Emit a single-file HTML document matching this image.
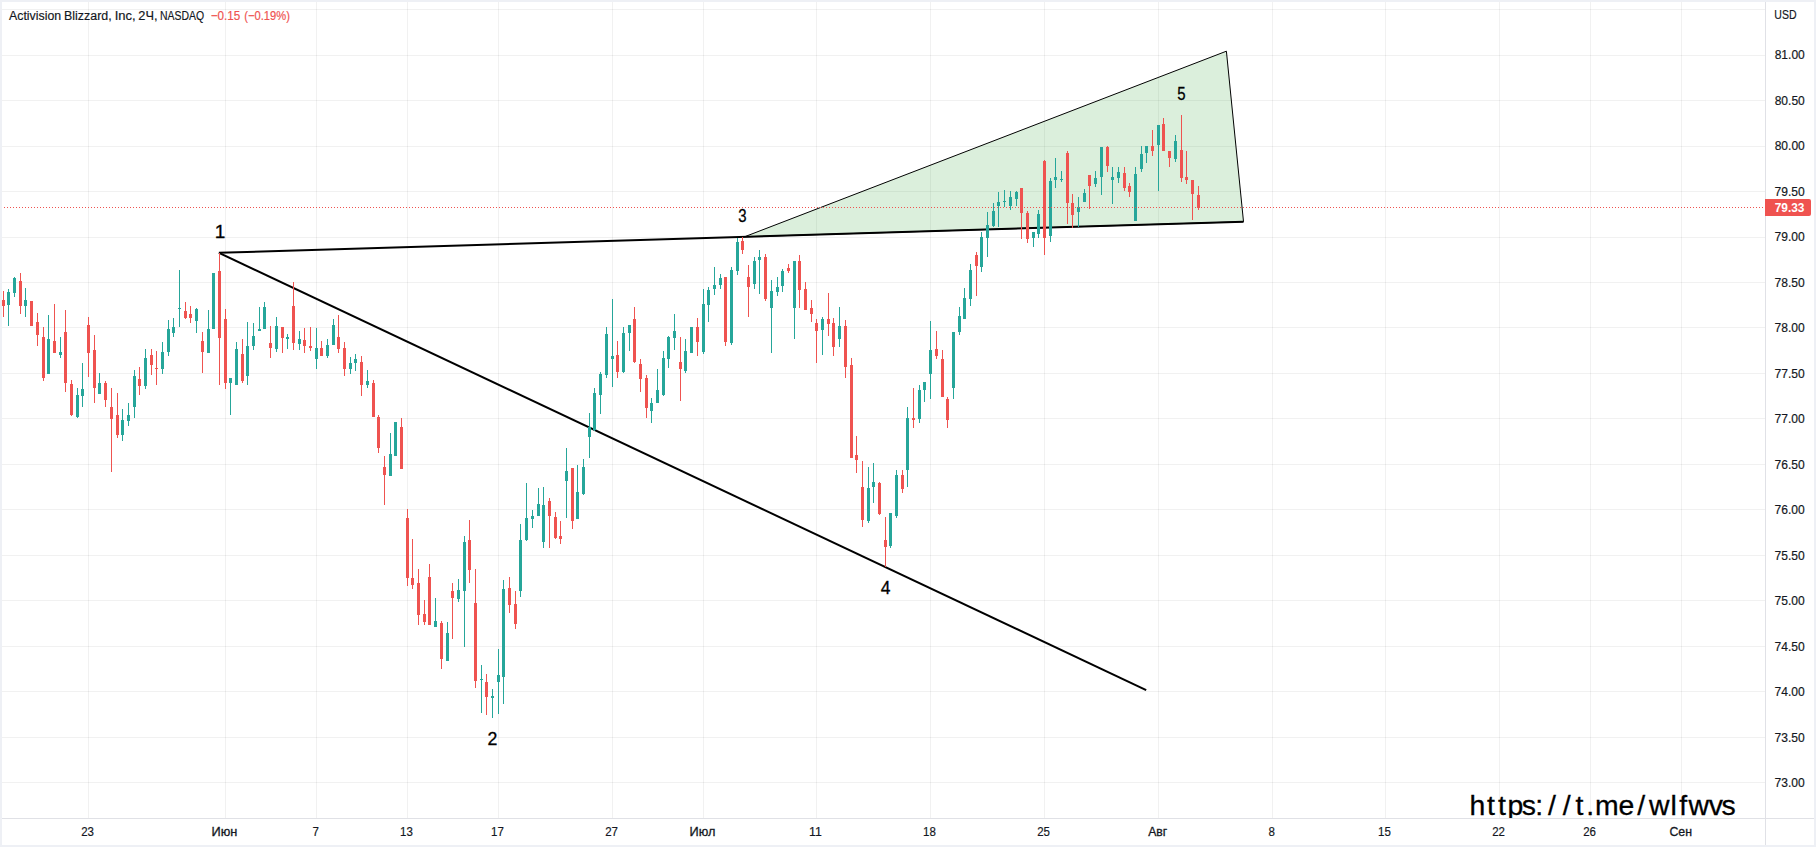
<!DOCTYPE html>
<html lang="ru"><head><meta charset="utf-8"><title>Activision Blizzard, Inc, 2Ч, NASDAQ</title>
<style>html,body{margin:0;padding:0;background:#fff;width:1816px;height:847px;overflow:hidden}svg{display:block}</style>
</head><body>
<svg width="1816" height="847" viewBox="0 0 1816 847" font-family='"Liberation Sans", sans-serif'>
<defs><clipPath id="pane"><rect x="2" y="2" width="1763" height="816"/></clipPath></defs>
<rect width="1816" height="847" fill="#fff"/>
<g fill="rgba(0,0,0,0.055)" shape-rendering="crispEdges">
<rect x="2" y="9" width="1763" height="1"/>
<rect x="2" y="55" width="1763" height="1"/>
<rect x="2" y="100" width="1763" height="1"/>
<rect x="2" y="146" width="1763" height="1"/>
<rect x="2" y="191" width="1763" height="1"/>
<rect x="2" y="237" width="1763" height="1"/>
<rect x="2" y="282" width="1763" height="1"/>
<rect x="2" y="327" width="1763" height="1"/>
<rect x="2" y="373" width="1763" height="1"/>
<rect x="2" y="418" width="1763" height="1"/>
<rect x="2" y="464" width="1763" height="1"/>
<rect x="2" y="509" width="1763" height="1"/>
<rect x="2" y="555" width="1763" height="1"/>
<rect x="2" y="600" width="1763" height="1"/>
<rect x="2" y="646" width="1763" height="1"/>
<rect x="2" y="691" width="1763" height="1"/>
<rect x="2" y="737" width="1763" height="1"/>
<rect x="2" y="782" width="1763" height="1"/>
<rect x="88" y="2" width="1" height="816"/>
<rect x="225" y="2" width="1" height="816"/>
<rect x="316" y="2" width="1" height="816"/>
<rect x="407" y="2" width="1" height="816"/>
<rect x="498" y="2" width="1" height="816"/>
<rect x="612" y="2" width="1" height="816"/>
<rect x="703" y="2" width="1" height="816"/>
<rect x="816" y="2" width="1" height="816"/>
<rect x="930" y="2" width="1" height="816"/>
<rect x="1044" y="2" width="1" height="816"/>
<rect x="1158" y="2" width="1" height="816"/>
<rect x="1272" y="2" width="1" height="816"/>
<rect x="1385" y="2" width="1" height="816"/>
<rect x="1499" y="2" width="1" height="816"/>
<rect x="1590" y="2" width="1" height="816"/>
<rect x="1681" y="2" width="1" height="816"/>
</g>
<polygon points="744.5,236.8 1226.4,51.2 1243.5,221.7" fill="rgba(76,175,80,0.2)" stroke="#000" stroke-width="1" stroke-linejoin="miter"/>
<g stroke="#000" stroke-width="2" fill="none"><line x1="218.9" y1="252.8" x2="1243.5" y2="221.7"/><line x1="218.9" y1="252.8" x2="1146.2" y2="690.1"/></g>
<g shape-rendering="crispEdges"><g fill="#26a69a"><rect x="8" y="289" width="1" height="37"/><rect x="14" y="277" width="1" height="20"/><rect x="25" y="288" width="1" height="29"/><rect x="48" y="315" width="1" height="59"/><rect x="60" y="337" width="1" height="21"/><rect x="77" y="388" width="1" height="30"/><rect x="82" y="363" width="1" height="44"/><rect x="99" y="373" width="1" height="21"/><rect x="122" y="409" width="1" height="32"/><rect x="128" y="403" width="1" height="23"/><rect x="134" y="370" width="1" height="48"/><rect x="145" y="349" width="1" height="40"/><rect x="162" y="342" width="1" height="32"/><rect x="168" y="320" width="1" height="36"/><rect x="173" y="318" width="1" height="19"/><rect x="179" y="270" width="1" height="57"/><rect x="196" y="308" width="1" height="25"/><rect x="208" y="310" width="1" height="43"/><rect x="213" y="273" width="1" height="56"/><rect x="230" y="378" width="1" height="37"/><rect x="236" y="342" width="1" height="43"/><rect x="247" y="322" width="1" height="63"/><rect x="253" y="323" width="1" height="27"/><rect x="259" y="307" width="1" height="24"/><rect x="264" y="302" width="1" height="27"/><rect x="276" y="317" width="1" height="35"/><rect x="287" y="334" width="1" height="15"/><rect x="299" y="331" width="1" height="19"/><rect x="316" y="328" width="1" height="41"/><rect x="327" y="339" width="1" height="19"/><rect x="333" y="319" width="1" height="26"/><rect x="350" y="357" width="1" height="17"/><rect x="355" y="354" width="1" height="17"/><rect x="367" y="370" width="1" height="18"/><rect x="390" y="433" width="1" height="43"/><rect x="395" y="422" width="1" height="34"/><rect x="435" y="598" width="1" height="29"/><rect x="447" y="622" width="1" height="39"/><rect x="458" y="579" width="1" height="23"/><rect x="464" y="536" width="1" height="111"/><rect x="481" y="665" width="1" height="48"/><rect x="492" y="689" width="1" height="29"/><rect x="498" y="649" width="1" height="65"/><rect x="503" y="580" width="1" height="124"/><rect x="520" y="524" width="1" height="73"/><rect x="526" y="483" width="1" height="58"/><rect x="532" y="510" width="1" height="18"/><rect x="538" y="488" width="1" height="28"/><rect x="543" y="487" width="1" height="61"/><rect x="566" y="448" width="1" height="70"/><rect x="577" y="465" width="1" height="54"/><rect x="583" y="459" width="1" height="36"/><rect x="589" y="413" width="1" height="45"/><rect x="594" y="388" width="1" height="43"/><rect x="600" y="372" width="1" height="42"/><rect x="606" y="327" width="1" height="51"/><rect x="612" y="299" width="1" height="88"/><rect x="623" y="327" width="1" height="46"/><rect x="629" y="325" width="1" height="26"/><rect x="651" y="398" width="1" height="25"/><rect x="657" y="369" width="1" height="34"/><rect x="663" y="351" width="1" height="45"/><rect x="668" y="336" width="1" height="32"/><rect x="674" y="314" width="1" height="36"/><rect x="685" y="339" width="1" height="34"/><rect x="691" y="327" width="1" height="26"/><rect x="703" y="289" width="1" height="65"/><rect x="708" y="287" width="1" height="35"/><rect x="714" y="267" width="1" height="28"/><rect x="720" y="274" width="1" height="15"/><rect x="731" y="267" width="1" height="78"/><rect x="737" y="238" width="1" height="37"/><rect x="754" y="257" width="1" height="32"/><rect x="759" y="250" width="1" height="44"/><rect x="771" y="280" width="1" height="73"/><rect x="777" y="277" width="1" height="19"/><rect x="782" y="269" width="1" height="23"/><rect x="794" y="261" width="1" height="78"/><rect x="822" y="317" width="1" height="38"/><rect x="839" y="307" width="1" height="40"/><rect x="868" y="467" width="1" height="56"/><rect x="873" y="463" width="1" height="40"/><rect x="890" y="513" width="1" height="35"/><rect x="896" y="470" width="1" height="48"/><rect x="907" y="407" width="1" height="80"/><rect x="919" y="385" width="1" height="38"/><rect x="924" y="382" width="1" height="20"/><rect x="930" y="321" width="1" height="78"/><rect x="953" y="332" width="1" height="67"/><rect x="959" y="307" width="1" height="28"/><rect x="964" y="288" width="1" height="31"/><rect x="970" y="264" width="1" height="42"/><rect x="981" y="232" width="1" height="40"/><rect x="987" y="212" width="1" height="45"/><rect x="993" y="203" width="1" height="24"/><rect x="998" y="192" width="1" height="35"/><rect x="1004" y="190" width="1" height="17"/><rect x="1010" y="191" width="1" height="19"/><rect x="1016" y="191" width="1" height="15"/><rect x="1033" y="232" width="1" height="15"/><rect x="1038" y="210" width="1" height="28"/><rect x="1050" y="178" width="1" height="64"/><rect x="1055" y="158" width="1" height="30"/><rect x="1061" y="171" width="1" height="11"/><rect x="1078" y="197" width="1" height="30"/><rect x="1084" y="189" width="1" height="13"/><rect x="1095" y="171" width="1" height="16"/><rect x="1101" y="147" width="1" height="48"/><rect x="1112" y="167" width="1" height="37"/><rect x="1118" y="167" width="1" height="16"/><rect x="1135" y="167" width="1" height="54"/><rect x="1141" y="146" width="1" height="26"/><rect x="1146" y="146" width="1" height="17"/><rect x="1158" y="125" width="1" height="66"/><rect x="1175" y="135" width="1" height="27"/><rect x="7" y="292" width="3" height="13"/><rect x="13" y="278" width="3" height="15"/><rect x="24" y="300" width="3" height="6"/><rect x="47" y="339" width="3" height="35"/><rect x="59" y="352" width="3" height="3"/><rect x="76" y="395" width="3" height="22"/><rect x="81" y="389" width="3" height="7"/><rect x="98" y="383" width="3" height="11"/><rect x="121" y="420" width="3" height="15"/><rect x="127" y="415" width="3" height="6"/><rect x="133" y="376" width="3" height="31"/><rect x="144" y="358" width="3" height="28"/><rect x="161" y="352" width="3" height="17"/><rect x="167" y="329" width="3" height="23"/><rect x="172" y="327" width="3" height="6"/><rect x="178" y="308" width="3" height="1"/><rect x="195" y="309" width="3" height="12"/><rect x="207" y="329" width="3" height="24"/><rect x="212" y="273" width="3" height="56"/><rect x="229" y="378" width="3" height="5"/><rect x="235" y="349" width="3" height="36"/><rect x="246" y="346" width="3" height="30"/><rect x="252" y="336" width="3" height="10"/><rect x="258" y="329" width="3" height="2"/><rect x="263" y="307" width="3" height="22"/><rect x="275" y="326" width="3" height="23"/><rect x="286" y="337" width="3" height="2"/><rect x="298" y="339" width="3" height="5"/><rect x="315" y="348" width="3" height="11"/><rect x="326" y="345" width="3" height="11"/><rect x="332" y="325" width="3" height="20"/><rect x="349" y="363" width="3" height="6"/><rect x="354" y="359" width="3" height="4"/><rect x="366" y="381" width="3" height="4"/><rect x="389" y="454" width="3" height="22"/><rect x="394" y="422" width="3" height="34"/><rect x="434" y="621" width="3" height="6"/><rect x="446" y="633" width="3" height="28"/><rect x="457" y="590" width="3" height="9"/><rect x="463" y="542" width="3" height="49"/><rect x="480" y="679" width="3" height="1"/><rect x="491" y="696" width="3" height="2"/><rect x="497" y="675" width="3" height="7"/><rect x="502" y="589" width="3" height="88"/><rect x="519" y="540" width="3" height="51"/><rect x="525" y="518" width="3" height="22"/><rect x="531" y="516" width="3" height="3"/><rect x="537" y="504" width="3" height="12"/><rect x="542" y="505" width="3" height="37"/><rect x="565" y="471" width="3" height="10"/><rect x="576" y="492" width="3" height="27"/><rect x="582" y="467" width="3" height="27"/><rect x="588" y="427" width="3" height="10"/><rect x="593" y="393" width="3" height="37"/><rect x="599" y="374" width="3" height="21"/><rect x="605" y="334" width="3" height="41"/><rect x="611" y="356" width="3" height="3"/><rect x="622" y="333" width="3" height="39"/><rect x="628" y="325" width="3" height="8"/><rect x="650" y="403" width="3" height="8"/><rect x="656" y="390" width="3" height="13"/><rect x="662" y="358" width="3" height="37"/><rect x="667" y="337" width="3" height="22"/><rect x="673" y="331" width="3" height="7"/><rect x="684" y="351" width="3" height="20"/><rect x="690" y="327" width="3" height="26"/><rect x="702" y="304" width="3" height="48"/><rect x="707" y="290" width="3" height="15"/><rect x="713" y="285" width="3" height="4"/><rect x="719" y="278" width="3" height="7"/><rect x="730" y="270" width="3" height="73"/><rect x="736" y="242" width="3" height="29"/><rect x="753" y="261" width="3" height="23"/><rect x="758" y="257" width="3" height="3"/><rect x="770" y="291" width="3" height="17"/><rect x="776" y="287" width="3" height="5"/><rect x="781" y="271" width="3" height="15"/><rect x="793" y="261" width="3" height="47"/><rect x="821" y="319" width="3" height="11"/><rect x="838" y="326" width="3" height="13"/><rect x="867" y="488" width="3" height="33"/><rect x="872" y="482" width="3" height="5"/><rect x="889" y="513" width="3" height="33"/><rect x="895" y="475" width="3" height="41"/><rect x="906" y="418" width="3" height="52"/><rect x="918" y="390" width="3" height="29"/><rect x="923" y="382" width="3" height="8"/><rect x="929" y="350" width="3" height="24"/><rect x="952" y="332" width="3" height="56"/><rect x="958" y="316" width="3" height="16"/><rect x="963" y="298" width="3" height="21"/><rect x="969" y="270" width="3" height="29"/><rect x="980" y="237" width="3" height="30"/><rect x="986" y="225" width="3" height="13"/><rect x="992" y="211" width="3" height="15"/><rect x="997" y="202" width="3" height="4"/><rect x="1003" y="201" width="3" height="1"/><rect x="1009" y="197" width="3" height="9"/><rect x="1015" y="192" width="3" height="7"/><rect x="1032" y="232" width="3" height="6"/><rect x="1037" y="214" width="3" height="20"/><rect x="1049" y="181" width="3" height="55"/><rect x="1054" y="177" width="3" height="3"/><rect x="1060" y="179" width="3" height="1"/><rect x="1077" y="207" width="3" height="5"/><rect x="1083" y="193" width="3" height="9"/><rect x="1094" y="178" width="3" height="6"/><rect x="1100" y="147" width="3" height="30"/><rect x="1111" y="177" width="3" height="3"/><rect x="1117" y="172" width="3" height="6"/><rect x="1134" y="174" width="3" height="47"/><rect x="1140" y="154" width="3" height="15"/><rect x="1145" y="146" width="3" height="7"/><rect x="1157" y="125" width="3" height="20"/><rect x="1174" y="141" width="3" height="18"/></g><g fill="#ef5350"><rect x="3" y="291" width="1" height="26"/><rect x="20" y="273" width="1" height="41"/><rect x="31" y="301" width="1" height="25"/><rect x="37" y="313" width="1" height="33"/><rect x="43" y="327" width="1" height="54"/><rect x="54" y="304" width="1" height="49"/><rect x="65" y="310" width="1" height="82"/><rect x="71" y="380" width="1" height="36"/><rect x="88" y="317" width="1" height="60"/><rect x="94" y="335" width="1" height="68"/><rect x="105" y="381" width="1" height="26"/><rect x="111" y="388" width="1" height="84"/><rect x="117" y="393" width="1" height="45"/><rect x="139" y="367" width="1" height="28"/><rect x="151" y="349" width="1" height="26"/><rect x="156" y="351" width="1" height="34"/><rect x="185" y="302" width="1" height="17"/><rect x="190" y="306" width="1" height="17"/><rect x="202" y="332" width="1" height="41"/><rect x="219" y="253" width="1" height="132"/><rect x="225" y="309" width="1" height="80"/><rect x="242" y="339" width="1" height="44"/><rect x="270" y="326" width="1" height="32"/><rect x="282" y="327" width="1" height="26"/><rect x="293" y="282" width="1" height="68"/><rect x="304" y="328" width="1" height="25"/><rect x="310" y="327" width="1" height="24"/><rect x="321" y="341" width="1" height="15"/><rect x="338" y="315" width="1" height="38"/><rect x="344" y="342" width="1" height="34"/><rect x="361" y="356" width="1" height="40"/><rect x="373" y="380" width="1" height="37"/><rect x="378" y="415" width="1" height="38"/><rect x="384" y="456" width="1" height="49"/><rect x="401" y="418" width="1" height="51"/><rect x="407" y="509" width="1" height="77"/><rect x="412" y="539" width="1" height="50"/><rect x="418" y="569" width="1" height="56"/><rect x="424" y="600" width="1" height="25"/><rect x="429" y="564" width="1" height="61"/><rect x="441" y="621" width="1" height="48"/><rect x="452" y="583" width="1" height="56"/><rect x="469" y="520" width="1" height="63"/><rect x="475" y="569" width="1" height="119"/><rect x="486" y="674" width="1" height="41"/><rect x="509" y="577" width="1" height="36"/><rect x="515" y="591" width="1" height="38"/><rect x="549" y="498" width="1" height="50"/><rect x="555" y="512" width="1" height="27"/><rect x="560" y="521" width="1" height="23"/><rect x="572" y="468" width="1" height="61"/><rect x="617" y="341" width="1" height="37"/><rect x="634" y="307" width="1" height="56"/><rect x="640" y="359" width="1" height="33"/><rect x="646" y="375" width="1" height="43"/><rect x="680" y="337" width="1" height="64"/><rect x="697" y="318" width="1" height="38"/><rect x="725" y="277" width="1" height="69"/><rect x="742" y="237" width="1" height="17"/><rect x="748" y="265" width="1" height="52"/><rect x="765" y="254" width="1" height="47"/><rect x="788" y="264" width="1" height="9"/><rect x="799" y="255" width="1" height="53"/><rect x="805" y="282" width="1" height="28"/><rect x="811" y="300" width="1" height="22"/><rect x="816" y="319" width="1" height="44"/><rect x="828" y="293" width="1" height="43"/><rect x="833" y="318" width="1" height="38"/><rect x="845" y="320" width="1" height="58"/><rect x="851" y="358" width="1" height="100"/><rect x="856" y="436" width="1" height="37"/><rect x="862" y="461" width="1" height="66"/><rect x="879" y="482" width="1" height="33"/><rect x="885" y="517" width="1" height="50"/><rect x="902" y="470" width="1" height="23"/><rect x="913" y="388" width="1" height="40"/><rect x="936" y="331" width="1" height="28"/><rect x="942" y="350" width="1" height="47"/><rect x="947" y="397" width="1" height="31"/><rect x="976" y="252" width="1" height="44"/><rect x="1021" y="188" width="1" height="51"/><rect x="1027" y="211" width="1" height="32"/><rect x="1044" y="160" width="1" height="95"/><rect x="1067" y="151" width="1" height="73"/><rect x="1072" y="194" width="1" height="34"/><rect x="1089" y="175" width="1" height="34"/><rect x="1107" y="146" width="1" height="26"/><rect x="1124" y="167" width="1" height="24"/><rect x="1129" y="183" width="1" height="14"/><rect x="1152" y="130" width="1" height="26"/><rect x="1163" y="118" width="1" height="33"/><rect x="1169" y="151" width="1" height="16"/><rect x="1181" y="115" width="1" height="67"/><rect x="1186" y="151" width="1" height="33"/><rect x="1192" y="180" width="1" height="40"/><rect x="1198" y="186" width="1" height="24"/><rect x="2" y="300" width="3" height="6"/><rect x="19" y="281" width="3" height="25"/><rect x="30" y="301" width="3" height="25"/><rect x="36" y="322" width="3" height="13"/><rect x="42" y="337" width="3" height="41"/><rect x="53" y="341" width="3" height="12"/><rect x="64" y="332" width="3" height="51"/><rect x="70" y="384" width="3" height="31"/><rect x="87" y="325" width="3" height="28"/><rect x="93" y="350" width="3" height="38"/><rect x="104" y="383" width="3" height="17"/><rect x="110" y="407" width="3" height="12"/><rect x="116" y="415" width="3" height="20"/><rect x="138" y="379" width="3" height="7"/><rect x="150" y="355" width="3" height="10"/><rect x="155" y="368" width="3" height="1"/><rect x="184" y="311" width="3" height="7"/><rect x="189" y="314" width="3" height="4"/><rect x="201" y="341" width="3" height="11"/><rect x="218" y="271" width="3" height="67"/><rect x="224" y="319" width="3" height="64"/><rect x="241" y="354" width="3" height="27"/><rect x="269" y="343" width="3" height="5"/><rect x="281" y="327" width="3" height="11"/><rect x="292" y="306" width="3" height="37"/><rect x="303" y="340" width="3" height="6"/><rect x="309" y="346" width="3" height="2"/><rect x="320" y="348" width="3" height="8"/><rect x="337" y="337" width="3" height="12"/><rect x="343" y="348" width="3" height="21"/><rect x="360" y="362" width="3" height="23"/><rect x="372" y="383" width="3" height="34"/><rect x="377" y="417" width="3" height="31"/><rect x="383" y="467" width="3" height="8"/><rect x="400" y="427" width="3" height="42"/><rect x="406" y="518" width="3" height="60"/><rect x="411" y="578" width="3" height="7"/><rect x="417" y="583" width="3" height="32"/><rect x="423" y="614" width="3" height="8"/><rect x="428" y="577" width="3" height="48"/><rect x="440" y="623" width="3" height="36"/><rect x="451" y="591" width="3" height="7"/><rect x="468" y="540" width="3" height="30"/><rect x="474" y="603" width="3" height="78"/><rect x="485" y="682" width="3" height="15"/><rect x="508" y="588" width="3" height="17"/><rect x="514" y="604" width="3" height="20"/><rect x="548" y="501" width="3" height="15"/><rect x="554" y="517" width="3" height="21"/><rect x="559" y="536" width="3" height="3"/><rect x="571" y="468" width="3" height="53"/><rect x="616" y="355" width="3" height="17"/><rect x="633" y="319" width="3" height="43"/><rect x="639" y="364" width="3" height="15"/><rect x="645" y="378" width="3" height="30"/><rect x="679" y="362" width="3" height="7"/><rect x="696" y="327" width="3" height="15"/><rect x="724" y="277" width="3" height="65"/><rect x="741" y="241" width="3" height="9"/><rect x="747" y="277" width="3" height="10"/><rect x="764" y="257" width="3" height="42"/><rect x="787" y="268" width="3" height="3"/><rect x="798" y="261" width="3" height="29"/><rect x="804" y="289" width="3" height="21"/><rect x="810" y="308" width="3" height="6"/><rect x="815" y="323" width="3" height="8"/><rect x="827" y="319" width="3" height="5"/><rect x="832" y="323" width="3" height="24"/><rect x="844" y="326" width="3" height="41"/><rect x="850" y="365" width="3" height="93"/><rect x="855" y="455" width="3" height="5"/><rect x="861" y="487" width="3" height="33"/><rect x="878" y="483" width="3" height="31"/><rect x="884" y="540" width="3" height="7"/><rect x="901" y="475" width="3" height="14"/><rect x="912" y="418" width="3" height="2"/><rect x="935" y="349" width="3" height="7"/><rect x="941" y="359" width="3" height="38"/><rect x="946" y="399" width="3" height="21"/><rect x="975" y="255" width="3" height="11"/><rect x="1020" y="188" width="3" height="25"/><rect x="1026" y="213" width="3" height="26"/><rect x="1043" y="161" width="3" height="77"/><rect x="1066" y="153" width="3" height="50"/><rect x="1071" y="203" width="3" height="12"/><rect x="1088" y="175" width="3" height="11"/><rect x="1106" y="147" width="3" height="19"/><rect x="1123" y="173" width="3" height="15"/><rect x="1128" y="186" width="3" height="6"/><rect x="1151" y="146" width="3" height="5"/><rect x="1162" y="124" width="3" height="27"/><rect x="1168" y="151" width="3" height="7"/><rect x="1180" y="150" width="3" height="28"/><rect x="1185" y="177" width="3" height="3"/><rect x="1191" y="180" width="3" height="14"/><rect x="1197" y="195" width="3" height="13"/></g></g>
<line x1="1" y1="207.5" x2="1765" y2="207.5" stroke="#ef5350" stroke-width="1" stroke-dasharray="1 2" shape-rendering="crispEdges"/>
<text x="214.85" y="238" font-size="19" fill="#000" stroke="#000" stroke-width="0.3" textLength="10.57" lengthAdjust="spacingAndGlyphs">1</text>
<text x="487.46" y="745.1" font-size="19" fill="#000" stroke="#000" stroke-width="0.3" textLength="9.89" lengthAdjust="spacingAndGlyphs">2</text>
<text x="738.28" y="222.2" font-size="19" fill="#000" stroke="#000" stroke-width="0.3" textLength="8.33" lengthAdjust="spacingAndGlyphs">3</text>
<text x="880.75" y="594" font-size="19" fill="#000" stroke="#000" stroke-width="0.3" textLength="9.71" lengthAdjust="spacingAndGlyphs">4</text>
<text x="1177.35" y="99.8" font-size="19" fill="#000" stroke="#000" stroke-width="0.3" textLength="8.33" lengthAdjust="spacingAndGlyphs">5</text>
<g fill="#e0e1e6" shape-rendering="crispEdges"><rect x="1765" y="2" width="1" height="843"/><rect x="2" y="818" width="1812" height="1"/></g>
<text x="1774.68" y="59.0" font-size="12.5" fill="#131722" stroke="#131722" stroke-width="0.18" textLength="30.09" lengthAdjust="spacingAndGlyphs">81.00</text>
<text x="1774.68" y="104.5" font-size="12.5" fill="#131722" stroke="#131722" stroke-width="0.18" textLength="30.09" lengthAdjust="spacingAndGlyphs">80.50</text>
<text x="1774.68" y="150.0" font-size="12.5" fill="#131722" stroke="#131722" stroke-width="0.18" textLength="30.09" lengthAdjust="spacingAndGlyphs">80.00</text>
<text x="1774.58" y="195.5" font-size="12.5" fill="#131722" stroke="#131722" stroke-width="0.18" textLength="30.19" lengthAdjust="spacingAndGlyphs">79.50</text>
<text x="1774.58" y="241.0" font-size="12.5" fill="#131722" stroke="#131722" stroke-width="0.18" textLength="30.19" lengthAdjust="spacingAndGlyphs">79.00</text>
<text x="1774.58" y="286.5" font-size="12.5" fill="#131722" stroke="#131722" stroke-width="0.18" textLength="30.19" lengthAdjust="spacingAndGlyphs">78.50</text>
<text x="1774.58" y="332.0" font-size="12.5" fill="#131722" stroke="#131722" stroke-width="0.18" textLength="30.19" lengthAdjust="spacingAndGlyphs">78.00</text>
<text x="1774.58" y="377.5" font-size="12.5" fill="#131722" stroke="#131722" stroke-width="0.18" textLength="30.19" lengthAdjust="spacingAndGlyphs">77.50</text>
<text x="1774.58" y="423.0" font-size="12.5" fill="#131722" stroke="#131722" stroke-width="0.18" textLength="30.19" lengthAdjust="spacingAndGlyphs">77.00</text>
<text x="1774.58" y="468.5" font-size="12.5" fill="#131722" stroke="#131722" stroke-width="0.18" textLength="30.19" lengthAdjust="spacingAndGlyphs">76.50</text>
<text x="1774.58" y="514.0" font-size="12.5" fill="#131722" stroke="#131722" stroke-width="0.18" textLength="30.19" lengthAdjust="spacingAndGlyphs">76.00</text>
<text x="1774.58" y="559.5" font-size="12.5" fill="#131722" stroke="#131722" stroke-width="0.18" textLength="30.19" lengthAdjust="spacingAndGlyphs">75.50</text>
<text x="1774.58" y="605.0" font-size="12.5" fill="#131722" stroke="#131722" stroke-width="0.18" textLength="30.19" lengthAdjust="spacingAndGlyphs">75.00</text>
<text x="1774.58" y="650.5" font-size="12.5" fill="#131722" stroke="#131722" stroke-width="0.18" textLength="30.19" lengthAdjust="spacingAndGlyphs">74.50</text>
<text x="1774.58" y="696.0" font-size="12.5" fill="#131722" stroke="#131722" stroke-width="0.18" textLength="30.19" lengthAdjust="spacingAndGlyphs">74.00</text>
<text x="1774.58" y="741.5" font-size="12.5" fill="#131722" stroke="#131722" stroke-width="0.18" textLength="30.19" lengthAdjust="spacingAndGlyphs">73.50</text>
<text x="1774.58" y="787.0" font-size="12.5" fill="#131722" stroke="#131722" stroke-width="0.18" textLength="30.19" lengthAdjust="spacingAndGlyphs">73.00</text>
<text x="1774.29" y="19" font-size="12.5" fill="#131722" stroke="#131722" stroke-width="0.18" textLength="22.22" lengthAdjust="spacingAndGlyphs">USD</text>
<path d="M1765 199h44a2 2 0 0 1 2 2v13a2 2 0 0 1 -2 2h-44z" fill="#ef5350"/>
<text x="1774.69" y="211.7" font-size="12.5" font-weight="bold" fill="#fff" textLength="29.74" lengthAdjust="spacingAndGlyphs">79.33</text>
<text x="81.17" y="836.2" font-size="12.5" fill="#131722" stroke="#131722" stroke-width="0.18" textLength="12.79" lengthAdjust="spacingAndGlyphs">23</text>
<text x="211.6" y="836.2" font-size="12.5" fill="#131722" stroke="#131722" stroke-width="0.3" textLength="25.83" lengthAdjust="spacingAndGlyphs">Июн</text>
<text x="312.4" y="836.2" font-size="12.5" fill="#131722" stroke="#131722" stroke-width="0.18" textLength="6.4" lengthAdjust="spacingAndGlyphs">7</text>
<text x="400.02" y="836.2" font-size="12.5" fill="#131722" stroke="#131722" stroke-width="0.18" textLength="12.79" lengthAdjust="spacingAndGlyphs">13</text>
<text x="491.06" y="836.2" font-size="12.5" fill="#131722" stroke="#131722" stroke-width="0.18" textLength="12.79" lengthAdjust="spacingAndGlyphs">17</text>
<text x="605.2" y="836.2" font-size="12.5" fill="#131722" stroke="#131722" stroke-width="0.18" textLength="12.79" lengthAdjust="spacingAndGlyphs">27</text>
<text x="689.56" y="836.2" font-size="12.5" fill="#131722" stroke="#131722" stroke-width="0.3" textLength="25.91" lengthAdjust="spacingAndGlyphs">Июл</text>
<text x="809.05" y="836.2" font-size="12.5" fill="#131722" stroke="#131722" stroke-width="0.18" textLength="12.79" lengthAdjust="spacingAndGlyphs">11</text>
<text x="923.02" y="836.2" font-size="12.5" fill="#131722" stroke="#131722" stroke-width="0.18" textLength="12.79" lengthAdjust="spacingAndGlyphs">18</text>
<text x="1037.16" y="836.2" font-size="12.5" fill="#131722" stroke="#131722" stroke-width="0.18" textLength="12.79" lengthAdjust="spacingAndGlyphs">25</text>
<text x="1148.23" y="836.2" font-size="12.5" fill="#131722" stroke="#131722" stroke-width="0.3" textLength="19.08" lengthAdjust="spacingAndGlyphs">Авг</text>
<text x="1268.4" y="836.2" font-size="12.5" fill="#131722" stroke="#131722" stroke-width="0.18" textLength="6.4" lengthAdjust="spacingAndGlyphs">8</text>
<text x="1378.01" y="836.2" font-size="12.5" fill="#131722" stroke="#131722" stroke-width="0.18" textLength="12.79" lengthAdjust="spacingAndGlyphs">15</text>
<text x="1492.2" y="836.2" font-size="12.5" fill="#131722" stroke="#131722" stroke-width="0.18" textLength="12.79" lengthAdjust="spacingAndGlyphs">22</text>
<text x="1583.17" y="836.2" font-size="12.5" fill="#131722" stroke="#131722" stroke-width="0.18" textLength="12.79" lengthAdjust="spacingAndGlyphs">26</text>
<text x="1669.42" y="836.2" font-size="12.5" fill="#131722" stroke="#131722" stroke-width="0.3" textLength="22.58" lengthAdjust="spacingAndGlyphs">Сен</text>
<text y="19.7" font-size="12.5" fill="#131722" stroke="#131722" stroke-width="0.18"><tspan x="9.08" textLength="52.02" lengthAdjust="spacingAndGlyphs">Activision</tspan> <tspan x="64.08" textLength="47.53" lengthAdjust="spacingAndGlyphs">Blizzard,</tspan> <tspan x="114.7" textLength="20.97" lengthAdjust="spacingAndGlyphs">Inc,</tspan> <tspan x="138.36" textLength="19.19" lengthAdjust="spacingAndGlyphs">2Ч,</tspan> <tspan x="160.04" textLength="44.16" lengthAdjust="spacingAndGlyphs">NASDAQ</tspan></text>
<text y="19.7" font-size="12.5" fill="#ef5350" stroke="#ef5350" stroke-width="0.18"><tspan x="210.72" textLength="29.57" lengthAdjust="spacingAndGlyphs">−0.15</tspan> <tspan x="244.21" textLength="45.69" lengthAdjust="spacingAndGlyphs">(−0.19%)</tspan></text>
<text x="1469.6 1486.9 1498.1 1507.6 1521.8 1535.3 1548.0 1562.7 1575.4 1586.2 1595.1 1618.6 1637.3 1649.1 1670.6 1679.3 1688.4 1708.8 1721.6" y="814.6" font-size="28.4" fill="#000" stroke="#000" stroke-width="0.3" clip-path="url(#pane)">https://t.me/wlfwvs</text>
<path d="M0 0H1816V847H0z M2 2V845H1814V2z" fill="#eef0f5" fill-rule="evenodd" shape-rendering="crispEdges"/>
</svg>
</body></html>
